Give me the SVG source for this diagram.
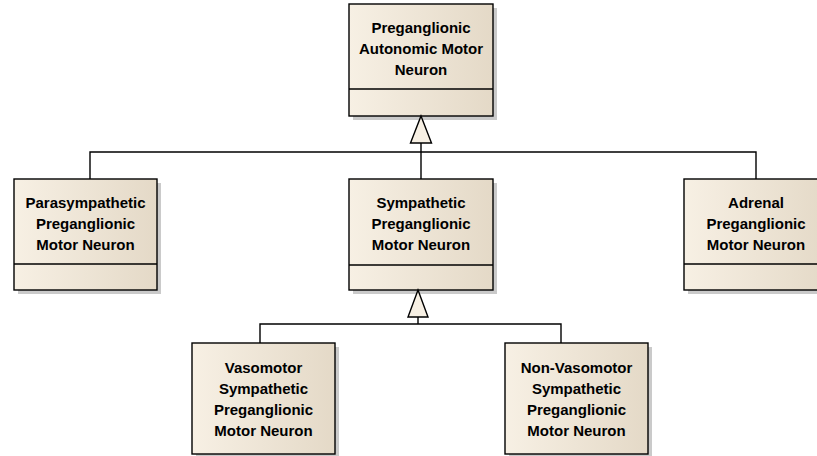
<svg xmlns="http://www.w3.org/2000/svg" width="817" height="456" viewBox="0 0 817 456">
<defs>
<linearGradient id="fillg" x1="0" y1="0" x2="1" y2="0">
<stop offset="0" stop-color="#F7F0E4"/>
<stop offset="1" stop-color="#E4D9C7"/>
</linearGradient>
<style>
.box{fill:url(#fillg);stroke:#000;stroke-width:1.4}
.shadow{fill:#B8B8B8;opacity:0.75}
.div{stroke:#000;stroke-width:1.4}
.lbl{font-family:"Liberation Sans",Arial,sans-serif;font-weight:bold;font-size:15px;fill:#000;text-anchor:middle}
.conn{fill:none;stroke:#000;stroke-width:1.4}
.tri{fill:#F7F0E4;stroke:#000;stroke-width:1.4;stroke-linejoin:miter}
</style>
</defs>
<rect width="817" height="456" fill="#fff"/>

<g id="preganglionic">
<rect class="shadow" x="353" y="8" width="144" height="112"/>
<rect class="box" x="349" y="4" width="144" height="112"/>
<line class="div" x1="349" y1="89" x2="493" y2="89"/>
<text class="lbl" x="421" y="33">Preganglionic</text>
<text class="lbl" x="421" y="54">Autonomic Motor</text>
<text class="lbl" x="421" y="75">Neuron</text>
</g>

<g id="parasympathetic">
<rect class="shadow" x="18" y="183" width="143" height="111"/>
<rect class="box" x="14" y="179" width="143" height="111"/>
<line class="div" x1="14" y1="264" x2="157" y2="264"/>
<text class="lbl" x="85.5" y="208">Parasympathetic</text>
<text class="lbl" x="85.5" y="229">Preganglionic</text>
<text class="lbl" x="85.5" y="250">Motor Neuron</text>
</g>

<g id="sympathetic">
<rect class="shadow" x="353" y="183" width="144" height="111"/>
<rect class="box" x="349" y="179" width="144" height="111"/>
<line class="div" x1="349" y1="265" x2="493" y2="265"/>
<text class="lbl" x="421" y="208">Sympathetic</text>
<text class="lbl" x="421" y="229">Preganglionic</text>
<text class="lbl" x="421" y="250">Motor Neuron</text>
</g>

<g id="adrenal">
<rect class="shadow" x="688" y="183" width="144" height="111"/>
<rect class="box" x="684" y="179" width="144" height="111"/>
<line class="div" x1="684" y1="264" x2="828" y2="264"/>
<text class="lbl" x="756" y="208">Adrenal</text>
<text class="lbl" x="756" y="229">Preganglionic</text>
<text class="lbl" x="756" y="250">Motor Neuron</text>
</g>

<g id="vasomotor">
<rect class="shadow" x="196" y="347" width="143" height="112"/>
<rect class="box" x="192" y="343" width="143" height="111"/>
<text class="lbl" x="263.5" y="373">Vasomotor</text>
<text class="lbl" x="263.5" y="394">Sympathetic</text>
<text class="lbl" x="263.5" y="415">Preganglionic</text>
<text class="lbl" x="263.5" y="436">Motor Neuron</text>
</g>

<g id="non-vasomotor">
<rect class="shadow" x="509" y="347" width="143" height="112"/>
<rect class="box" x="505" y="343" width="143" height="111"/>
<text class="lbl" x="576.5" y="373">Non-Vasomotor</text>
<text class="lbl" x="576.5" y="394">Sympathetic</text>
<text class="lbl" x="576.5" y="415">Preganglionic</text>
<text class="lbl" x="576.5" y="436">Motor Neuron</text>
</g>

<g id="connectors">
<path class="conn" d="M421 143 V179 M90 179 V152 H756 V179"/>
<polygon class="tri" points="421,116 431.5,143 410.5,143"/>
<path class="conn" d="M418 317 V324 M260 343 V324 H561 V343"/>
<polygon class="tri" points="418,290 428,317 408,317"/>
</g>
</svg>
